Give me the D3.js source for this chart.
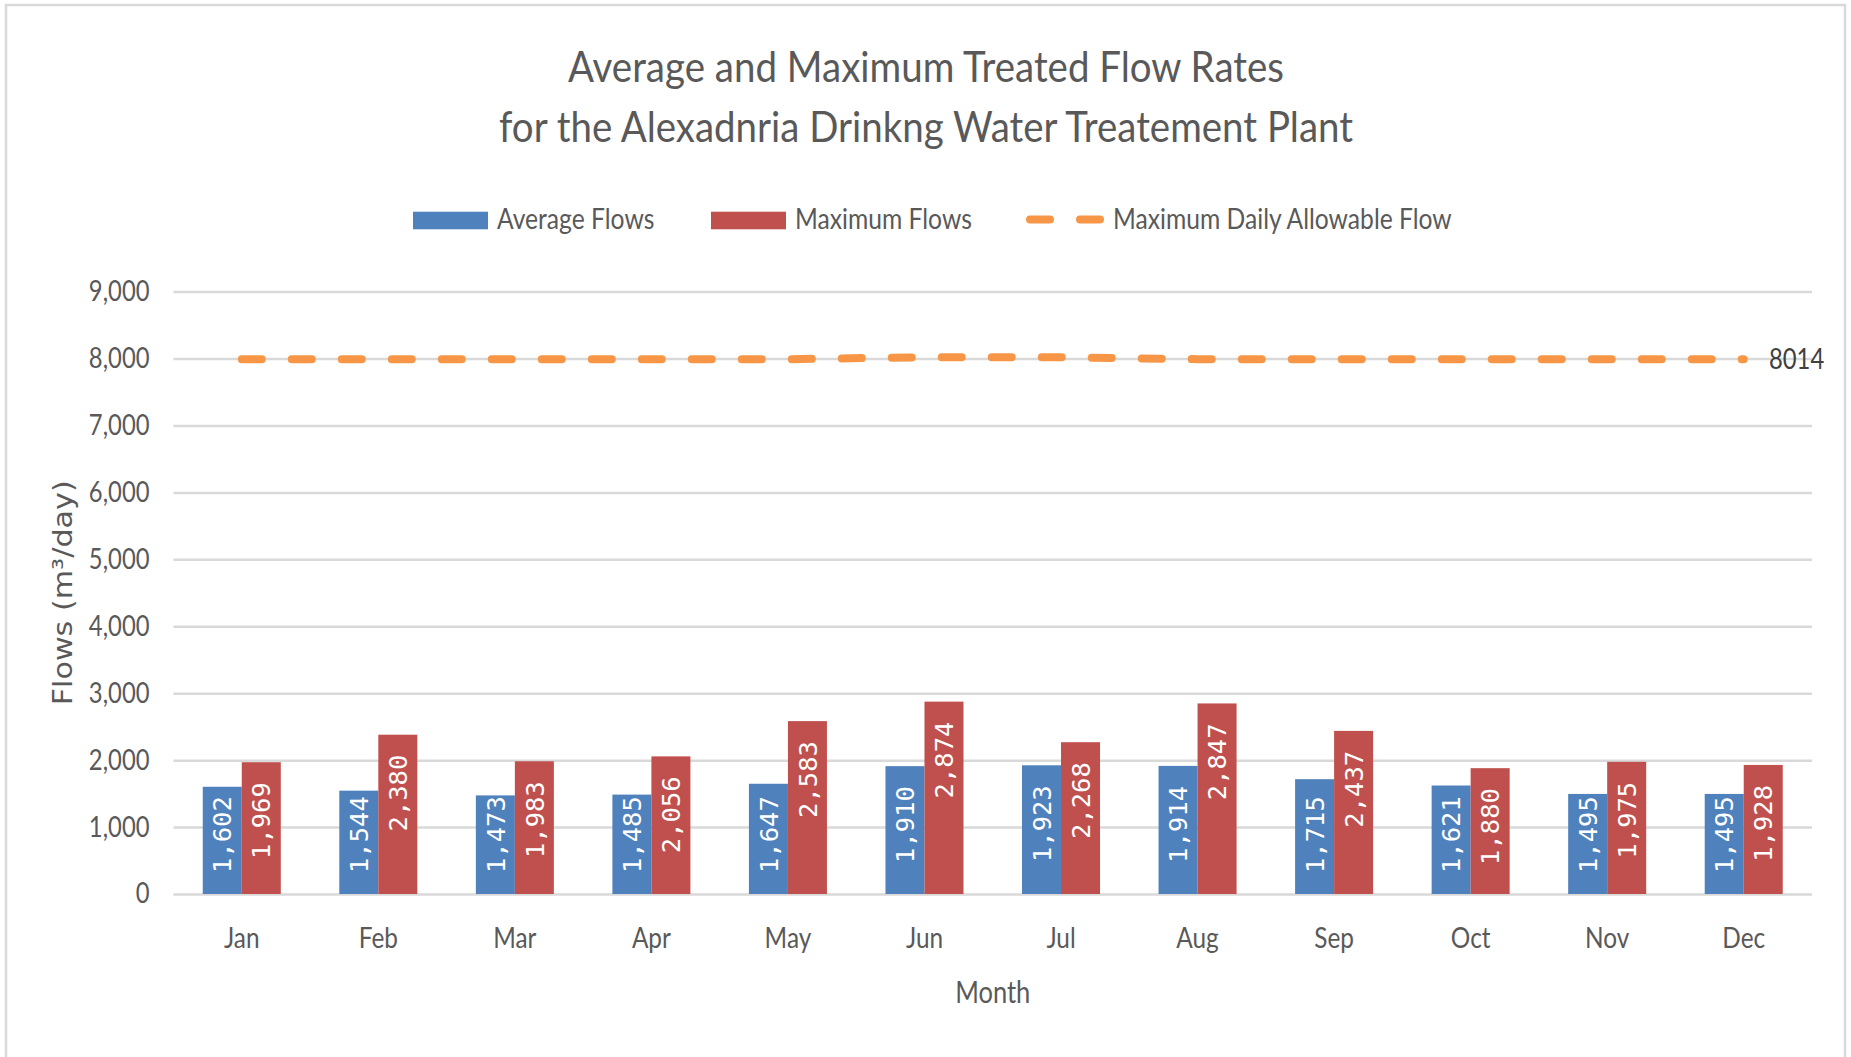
<!DOCTYPE html>
<html lang="en">
  <head>
    <meta charset="utf-8">
    <title>Treated Flow Rates</title>
    <script type="text/javascript" src="https://d3js.org/d3.v7.min.js"></script>
    <style>
    body {
      margin:0;
      background-color:#ffffff;
    }
    text {
      font-family:Lato, "Open Sans", sans-serif;
      fill:#595959;
    }
    </style>
  </head>
  <body>
    <div id="chart"></div>
    <script type="text/javascript">
// data
const months = ["Jan", "Feb", "Mar", "Apr", "May", "Jun", "Jul", "Aug", "Sep", "Oct", "Nov", "Dec"];
const avgFlows = [1602, 1544, 1473, 1485, 1647, 1910, 1923, 1914, 1715, 1621, 1495, 1495];
const maxFlows = [1969, 2380, 1983, 2056, 2583, 2874, 2268, 2847, 2437, 1880, 1975, 1928];
const allowableFlow = [7990, 7990, 7990, 7990, 7990, 8020, 8020, 7990, 7990, 7990, 7990, 7990];
const seriesNames = ["Average Flows", "Maximum Flows", "Maximum Daily Allowable Flow"];
const yTicks = [0, 1000, 2000, 3000, 4000, 5000, 6000, 7000, 8000, 9000];
const endLabel = "8014";
const titleLines = ["Average and Maximum Treated Flow Rates", "for the Alexadnria Drinkng Water Treatement Plant"];

const width = 1851, height = 1057;
const plot = {left: 173.5, right: 1812, top: 291.6, bottom: 894};
const colors = ["#4F81BD", "#C0504D", "#F79646"];

const svg = d3.select("#chart").append("svg").attr("width", width).attr("height", height);

// squeeze text horizontally (the original font is narrow)
function condense(sel, k) {
  sel.each(function() {
    const w = this.getComputedTextLength();
    d3.select(this).attr("textLength", w * k).attr("lengthAdjust", "spacingAndGlyphs");
  });
}

// chart frame
svg.append("rect").attr("x", 6).attr("y", 5).attr("width", 1839).attr("height", 1070)
  .attr("fill", "#ffffff").attr("stroke", "#D9D9D9").attr("stroke-width", 2.5);

const x0 = d3.scaleBand().domain(months).range([plot.left, plot.right]);
const x1 = d3.scaleBand().domain([0, 1]).range([0, x0.bandwidth()]).paddingOuter(0.75);
const y = d3.scaleLinear().domain([0, 9000]).range([plot.bottom, plot.top]);

// gridlines
const grid = svg.append("g").attr("transform", `translate(${plot.left},0)`)
  .call(d3.axisLeft(y).tickValues(yTicks).tickSize(-(plot.right - plot.left)).tickFormat(""));
grid.select(".domain").remove();
grid.selectAll("line").attr("stroke", "#D9D9D9").attr("stroke-width", 2.5);

// y axis labels
const yAxis = svg.append("g").attr("transform", `translate(${plot.left},0)`)
  .call(d3.axisLeft(y).tickValues(yTicks).tickFormat(d3.format(",")).tickSize(0).tickPadding(24));
yAxis.select(".domain").remove();
yAxis.selectAll("text").attr("font-family", null).attr("font-size", "28px").attr("fill", "#595959");
condense(yAxis.selectAll("text"), 0.85);

// x axis labels
const xAxis = svg.append("g").attr("transform", `translate(0,${plot.bottom})`)
  .call(d3.axisBottom(x0).tickSize(0).tickPadding(34));
xAxis.select(".domain").remove();
xAxis.selectAll("text").attr("font-family", null).attr("font-size", "28px").attr("fill", "#595959");
condense(xAxis.selectAll("text"), 0.87);

// bars
const rows = months.map((m, i) => ({month: m, values: [avgFlows[i], maxFlows[i]]}));
const groups = svg.append("g").selectAll("g").data(rows).join("g")
  .attr("transform", d => `translate(${x0(d.month)},0)`);
groups.selectAll("rect").data(d => d.values.map((v, k) => ({k: k, v: v}))).join("rect")
  .attr("x", d => x1(d.k))
  .attr("width", x1.bandwidth())
  .attr("y", d => y(d.v))
  .attr("height", d => y(0) - y(d.v))
  .attr("fill", d => colors[d.k]);

// data labels inside the bars
groups.selectAll("text.val").data(d => d.values.map((v, k) => ({k: k, v: v}))).join("text")
  .attr("class", "val")
  .text(d => d3.format(",")(d.v))
  .style("font-family", "'DejaVu Sans Mono', 'Liberation Mono', monospace")
  .attr("font-size", "25.5px")
  .style("fill", "#ffffff")
  .attr("text-anchor", "start")
  .attr("dy", "0.36em")
  .each(function(d) {
    const len = this.getComputedTextLength();
    const yb = Math.min(y(d.v) + 20 + len, y(0) - 21);
    d3.select(this).attr("transform", `translate(${x1(d.k) + x1.bandwidth() / 2},${yb}) rotate(-90)`);
  });

// allowable flow line
const line = d3.line().x((d, i) => x0(months[i]) + x0.bandwidth() / 2).y(d => y(d));
svg.append("path").datum(allowableFlow)
  .attr("fill", "none")
  .attr("stroke", colors[2])
  .attr("stroke-width", 8)
  .attr("stroke-linecap", "round")
  .attr("stroke-dasharray", "20,30")
  .attr("d", line);
const endText = svg.append("text")
  .attr("x", 1769).attr("y", y(allowableFlow[11]) + 10)
  .attr("font-size", "28px").style("fill", "#404040")
  .text(endLabel);
condense(endText, 0.85);

// legend
const legendX = [413, 711];
[0, 1].forEach(k => {
  svg.append("rect").attr("x", legendX[k]).attr("y", 211.7).attr("width", 75).attr("height", 17.6).attr("fill", colors[k]);
  const t = svg.append("text").attr("x", legendX[k] + 84).attr("y", 229.3).attr("font-size", "29px").text(seriesNames[k]);
  condense(t, 0.85);
});
svg.append("path").attr("d", "M1030,219.5H1100")
  .attr("stroke", colors[2]).attr("stroke-width", 8).attr("stroke-linecap", "round").attr("stroke-dasharray", "20,30");
const lt = svg.append("text").attr("x", 1113).attr("y", 229.3).attr("font-size", "29px").text(seriesNames[2]);
condense(lt, 0.85);

// titles
const titleWidths = [716, 854];
titleLines.forEach((s, i) => {
  svg.append("text").attr("x", 926).attr("y", 81.7 + 60 * i)
    .attr("text-anchor", "middle").attr("font-size", "42px")
    .attr("textLength", titleWidths[i]).attr("lengthAdjust", "spacingAndGlyphs")
    .text(s);
});

const monthTitle = svg.append("text").attr("x", (plot.left + plot.right) / 2).attr("y", 1003)
  .attr("text-anchor", "middle").attr("font-size", "30px").text("Month");
condense(monthTitle, 0.85);

svg.append("text")
  .attr("transform", `translate(71.7,${(plot.top + plot.bottom) / 2}) rotate(-90)`)
  .attr("text-anchor", "middle")
  .style("font-family", "'DejaVu Sans', Verdana, sans-serif")
  .attr("font-size", "27px")
  .attr("textLength", 225).attr("lengthAdjust", "spacingAndGlyphs")
  .text("Flows (m³/day)");
    </script>
  </body>
</html>
